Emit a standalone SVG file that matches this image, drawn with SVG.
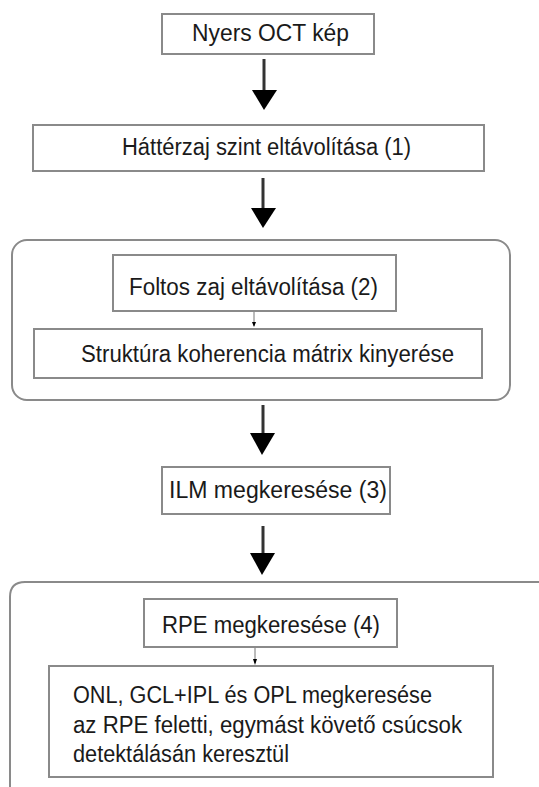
<svg xmlns="http://www.w3.org/2000/svg" width="539" height="787" viewBox="0 0 539 787">
<style>
.box{fill:#fff;stroke:#8a8a8a;stroke-width:2}
.grp{fill:none;stroke:#8a8a8a;stroke-width:2}
.t{font-family:"Liberation Sans",Arial,sans-serif;font-size:23.5px;fill:#1a1a1a}
.shaft{stroke:#333;stroke-width:3}
.head{fill:#000}
.small{stroke:#777;stroke-width:1}
</style>
<rect width="539" height="787" fill="#fff"/>
<g id="group1"><rect class="grp" x="12" y="240" width="498" height="160" rx="15"/></g>
<g id="group2"><path class="grp" d="M10 787 V597 Q10 582 25 582 H545"/></g>
<g id="n1"><rect class="box" x="162" y="14" width="212" height="40"/><text class="t" x="192" y="41" textLength="157" lengthAdjust="spacingAndGlyphs">Nyers OCT kép</text></g>
<g id="n2"><rect class="box" x="33" y="125" width="451" height="46"/><text class="t" x="122" y="155" textLength="289" lengthAdjust="spacingAndGlyphs">Háttérzaj szint eltávolítása (1)</text></g>
<g id="n3"><rect class="box" x="113" y="255" width="283" height="56"/><text class="t" x="129" y="295" textLength="249" lengthAdjust="spacingAndGlyphs">Foltos zaj eltávolítása (2)</text></g>
<g id="n4"><rect class="box" x="34" y="329" width="448" height="49"/><text class="t" x="81" y="362" textLength="373" lengthAdjust="spacingAndGlyphs">Struktúra koherencia mátrix kinyerése</text></g>
<g id="n5"><rect class="box" x="162" y="467" width="228" height="47"/><text class="t" x="169" y="498" textLength="218" lengthAdjust="spacingAndGlyphs">ILM megkeresése (3)</text></g>
<g id="n6"><rect class="box" x="144" y="599" width="253" height="48"/><text class="t" x="162" y="633" textLength="218" lengthAdjust="spacingAndGlyphs">RPE megkeresése (4)</text></g>
<g id="n7"><rect class="box" x="49" y="666" width="444" height="111"/><text class="t" x="73" y="703" textLength="359" lengthAdjust="spacingAndGlyphs">ONL, GCL+IPL és OPL megkeresése</text><text class="t" x="73" y="733" textLength="389" lengthAdjust="spacingAndGlyphs">az RPE feletti, egymást követő csúcsok</text><text class="t" x="73" y="762" textLength="216" lengthAdjust="spacingAndGlyphs">detektálásán keresztül</text></g>
<g id="connectors">
<line class="shaft" x1="264" y1="59" x2="264" y2="92"/><polygon class="head" points="252,90 277,90 264,110"/>
<line class="shaft" x1="263" y1="178" x2="263" y2="210"/><polygon class="head" points="251,208 276,208 263,228"/>
<line class="small" x1="254" y1="312" x2="254" y2="326"/><polygon class="head" points="252,322 256,322 254,327"/>
<line class="shaft" x1="263" y1="405" x2="263" y2="435"/><polygon class="head" points="250,433 275,433 262,455"/>
<line class="shaft" x1="263" y1="526" x2="263" y2="555"/><polygon class="head" points="250,553 275,553 262,575"/>
<line class="small" x1="255" y1="648" x2="255" y2="663"/><polygon class="head" points="253,659 257,659 255,665"/>
</g>
</svg>
